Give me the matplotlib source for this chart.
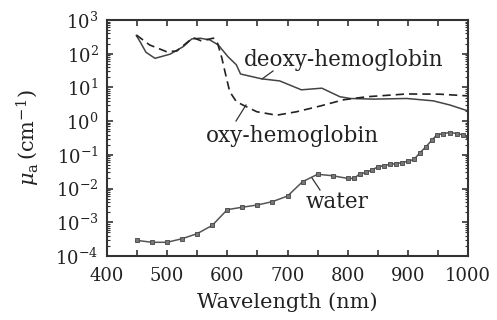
import numpy as np
import matplotlib
matplotlib.use("Agg")
import matplotlib.pyplot as plt
from matplotlib.ticker import MultipleLocator, FuncFormatter, LogLocator, NullFormatter

plt.rcParams['font.family'] = 'DejaVu Serif'
plt.rcParams['mathtext.fontset'] = 'dejavuserif'

# absorption coefficient (cm^-1)
wl_deoxy = [449, 455, 465, 480, 505, 527, 541, 555, 571, 585, 601, 615, 622,
            657, 687, 723, 757, 787, 804, 843, 898, 942, 970, 1000]
mu_deoxy = [344, 230, 110, 73, 97, 163, 275, 288, 257, 182, 82, 47, 25,
            18, 15.6, 8.5, 9.5, 5.3, 4.7, 4.5, 4.7, 4.0, 3.0, 2.0]

wl_oxy = [449, 471, 499, 516, 535, 543, 557, 577, 584, 591, 596, 604, 615,
          626, 649, 682, 715, 754, 793, 832, 898, 953, 1000]
mu_oxy = [360, 182, 115, 120, 229, 300, 240, 290, 200, 74, 30, 7.5, 3.8,
          3.0, 1.9, 1.5, 1.9, 2.8, 4.3, 5.3, 6.4, 6.3, 5.6]

wl_water = [450, 475, 500, 525, 550, 575, 600, 625, 650, 675, 700, 725, 750,
            775, 800, 810, 820, 830, 840, 850, 860, 870, 880, 890, 900, 910,
            920, 930, 940, 948, 959, 970, 981, 992, 1000]
mu_water = [2.9e-4, 2.55e-4, 2.55e-4, 3.26e-4, 4.6e-4, 8.1e-4, 2.37e-3, 2.8e-3,
            3.26e-3, 4.1e-3, 6.0e-3, 1.6e-2, 2.66e-2, 2.4e-2, 2.0e-2, 2.0e-2,
            2.7e-2, 3.0e-2, 3.56e-2, 4.4e-2, 4.8e-2, 5.2e-2, 5.5e-2, 5.9e-2,
            6.5e-2, 7.3e-2, 0.116, 0.175, 0.277, 0.39, 0.43, 0.46, 0.43, 0.39, 0.35]

H = 320
fig = plt.figure(figsize=(4.97, 3.2), dpi=100)
ax = fig.add_axes([0.215, 0.2, 0.727, 0.7375])

ax.plot(wl_deoxy, mu_deoxy, '-', color='#444444', lw=1.1)
ax.plot(wl_oxy, mu_oxy, '--', color='#222222', lw=1.2, dashes=(5, 3))
ax.plot(wl_water, mu_water, '-s', color='#555555', lw=1.1, ms=3.5,
        mfc='#777777', mec='#444444', mew=0.6)

ax.set_yscale('log')
ax.set_xlim(400, 1000)
ax.set_ylim(1e-4, 1e3)

ax.xaxis.set_major_locator(MultipleLocator(50))
ax.xaxis.set_major_formatter(FuncFormatter(lambda v, p: f"{int(v)}" if v % 100 == 0 else ""))
ax.yaxis.set_major_locator(LogLocator(base=10, numticks=10))
ax.yaxis.set_minor_locator(LogLocator(base=10, subs=np.arange(2, 10), numticks=10))
ax.yaxis.set_minor_formatter(NullFormatter())
ax.yaxis.set_major_formatter(FuncFormatter(lambda v, p: r"$10^{%d}$" % round(np.log10(v))))

ax.tick_params(which='both', direction='in', top=True, right=True, labelsize=13,
               color='#333333', labelcolor='#222222')
ax.tick_params(which='major', length=4, width=1.2)
ax.tick_params(which='minor', length=2, width=0.8)
ax.tick_params(axis='x', which='major', pad=8)
ax.tick_params(axis='y', which='major', pad=6)
for s in ax.spines.values():
    s.set_linewidth(1.5)
    s.set_color('#333333')

ax.set_xlabel('Wavelength (nm)', fontsize=15, color='#222222', labelpad=5)
ax.set_ylabel(r'$\mu_{\rm a}\,(\rm cm^{-1})$', fontsize=15, color='#222222')
ax.yaxis.set_label_coords(-0.18, 0.5)

fig.text(344 / 497, 1 - 60 / H, 'deoxy-hemoglobin', fontsize=15.5, color='#222222',
         ha='center', va='center')
fig.text(292 / 497, 1 - 136 / H, 'oxy-hemoglobin', fontsize=15.5, color='#222222',
         ha='center', va='center')
fig.text(337 / 497, 1 - 202 / H, 'water', fontsize=15.5, color='#222222',
         ha='center', va='center')

# leader lines (figure pixels from top-left)
leaders = [((273, 71), (262, 79)), ((236, 121), (246, 105)), ((320, 190), (312, 178))]
for (x0, y0), (x1, y1) in leaders:
    fig.add_artist(plt.Line2D([x0 / 497, x1 / 497], [1 - y0 / H, 1 - y1 / H],
                              color='#333333', lw=0.9))

fig.savefig('out.png', dpi=100)
